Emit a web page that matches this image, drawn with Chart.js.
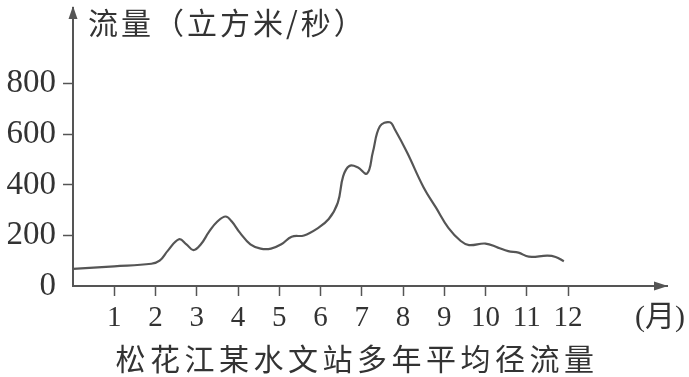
<!DOCTYPE html>
<html>
<head>
<meta charset="utf-8">
<script src="https://cdn.jsdelivr.net/npm/chart.js@4.4.1/dist/chart.umd.min.js"></script>
<style>
  body { margin: 0; background: #fff; }
  #wrap { width: 689px; height: 377px; position: relative; }
</style>
</head>
<body>
<div id="wrap"><canvas id="flow"></canvas></div>
<script>
// 月份 (横坐标) 与多年平均径流量 (立方米/秒)
const months = [0, 1, 1.9, 2.1, 2.3, 2.57, 2.75, 2.92, 3.1, 3.3, 3.5, 3.7, 3.85, 4.05, 4.3, 4.55, 4.8, 5.05, 5.3, 5.6, 5.9, 6.2, 6.42, 6.55, 6.7, 6.9, 7.13, 7.27, 7.44, 7.68, 7.8, 8.1, 8.5, 8.8, 9.1, 9.4, 9.6, 10.0, 10.3, 10.55, 10.8, 11.05, 11.5, 11.7, 11.9];
const flow = [68, 78, 88, 100, 140, 185, 165, 142, 165, 215, 255, 275, 255, 210, 165, 148, 148, 165, 195, 200, 225, 265, 330, 435, 475, 470, 445, 530, 632, 648, 620, 528, 390, 310, 230, 178, 162, 168, 152, 138, 132, 116, 120, 115, 98];
const monthTicks = [1, 2, 3, 4, 5, 6, 7, 8, 9, 10, 11, 12];
const flowTicks = [0, 200, 400, 600, 800];

const axisColor = "#555";
const textColor = "#333";

const extras = {
    id: "extras",
    afterDraw(chart) {
        const ctx = chart.ctx;
        const a = chart.chartArea;
        ctx.save();
        ctx.fillStyle = axisColor;
        // y 轴箭头
        ctx.beginPath();
        ctx.moveTo(a.left, 6);
        ctx.lineTo(a.left - 4.5, 19);
        ctx.lineTo(a.left + 4.5, 19);
        ctx.closePath();
        ctx.fill();
        if (a.top > 15) ctx.fillRect(a.left - 1, 15, 2, a.top - 14);
        // x 轴箭头
        ctx.beginPath();
        ctx.moveTo(a.right + 1, a.bottom);
        ctx.lineTo(a.right - 13, a.bottom - 4.5);
        ctx.lineTo(a.right - 13, a.bottom + 4.5);
        ctx.closePath();
        ctx.fill();

        ctx.fillStyle = textColor;
        ctx.textBaseline = "middle";
        ctx.textAlign = "left";
        ctx.font = '30px "Noto Sans CJK SC"';
        ctx.letterSpacing = "3px";
        ctx.fillText("流量（立方米/秒）", 88, 23);
        ctx.letterSpacing = "0px";

        ctx.font = '30px "Liberation Serif", "Noto Sans CJK SC"';
        ctx.fillText("(月)", 635, 318);

        ctx.textAlign = "center";
        ctx.font = '30px "Noto Sans CJK SC"';
        ctx.letterSpacing = "4.5px";
        ctx.fillText("松花江某水文站多年平均径流量", 357, 359);
        ctx.restore();
    },
};

const data = {
    datasets: [
        {
            data: months.map((m, i) => ({ x: m, y: flow[i] })),
            borderColor: axisColor,
            borderWidth: 2.2,
            pointRadius: 0,
            tension: 0.4,
            fill: false,
        },
    ],
};

const config = {
    type: "line",
    data: data,
    plugins: [extras],
    options: {
        responsive: true,
        maintainAspectRatio: false,
        animation: false,
        layout: { padding: { top: 8, right: 22, left: 0, bottom: 0 } },
        plugins: {
            legend: { display: false },
            tooltip: { enabled: false },
        },
        scales: {
            x: {
                type: "linear",
                min: 0,
                max: 14.4,
                afterBuildTicks: (scale) => {
                    scale.ticks = monthTicks.map((v) => ({ value: v }));
                },
                afterFit: (scale) => {
                    scale.height = 91;
                    scale.paddingLeft = 0;
                    scale.paddingRight = 0;
                },
                border: { display: true, color: axisColor, width: 2 },
                grid: {
                    drawOnChartArea: false,
                    tickLength: 10,
                    tickColor: axisColor,
                    tickWidth: 1.5,
                },
                ticks: {
                    autoSkip: false,
                    maxRotation: 0,
                    padding: 5,
                    color: textColor,
                    font: { family: "Liberation Serif", size: 29 },
                },
            },
            y: {
                min: 0,
                max: 1100,
                afterBuildTicks: (scale) => {
                    scale.ticks = flowTicks.map((v) => ({ value: v }));
                },
                afterFit: (scale) => {
                    scale.width = 73;
                    scale.paddingTop = 0;
                    scale.paddingBottom = 0;
                },
                border: { display: true, color: axisColor, width: 2 },
                grid: {
                    drawOnChartArea: false,
                    tickLength: 10,
                    tickColor: (c) => (c.tick && c.tick.value === 0 ? "rgba(0,0,0,0)" : axisColor),
                    tickWidth: 1.5,
                },
                ticks: {
                    padding: 7,
                    color: textColor,
                    font: { family: "Liberation Serif", size: 33 },
                },
            },
        },
    },
};

const flowChart = new Chart(document.getElementById("flow"), config);
</script>
</body>
</html>
